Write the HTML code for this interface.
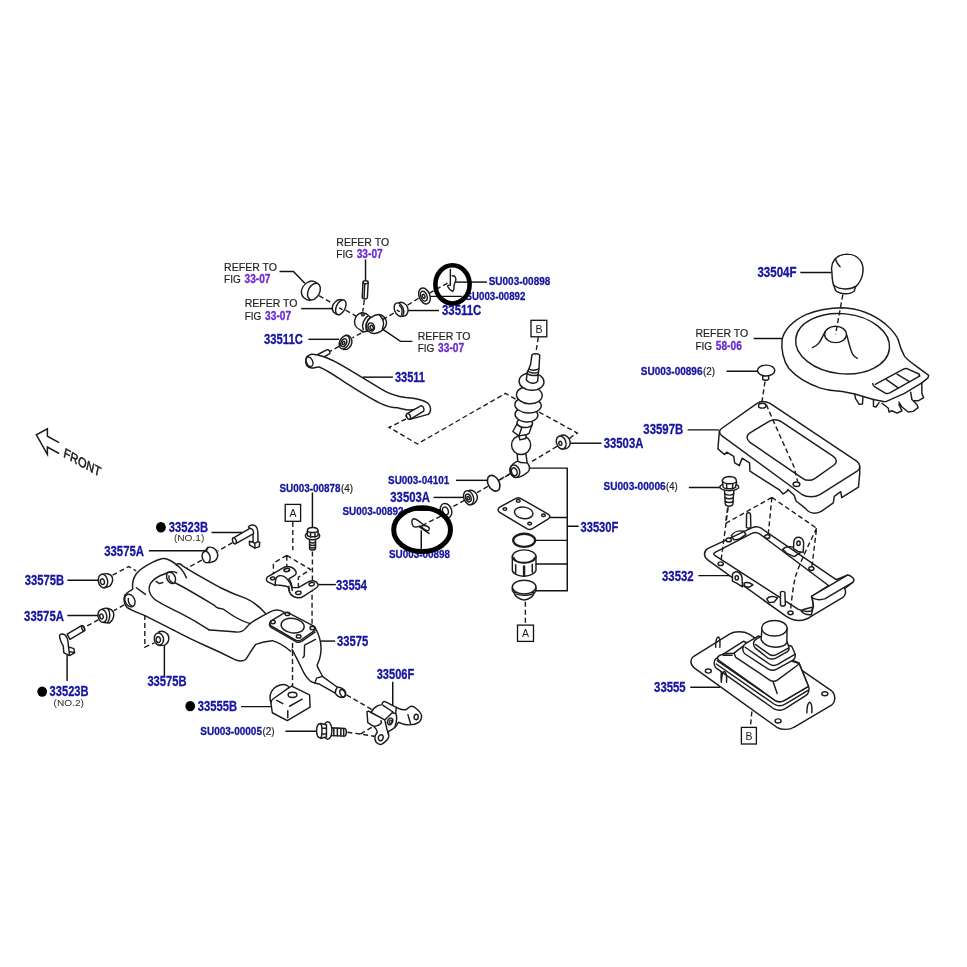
<!DOCTYPE html>
<html lang="en">
<head>
<meta charset="utf-8">
<title>Shift lever &amp; retainer parts diagram</title>
<style>
html,body{margin:0;padding:0;background:#fff;}
body{width:967px;height:967px;overflow:hidden;}
svg{display:block;will-change:transform;font-family:"Liberation Sans",Arial,sans-serif;}
.ln{fill:none;stroke:#1c1c1c;stroke-width:1.45;stroke-linecap:round;stroke-linejoin:round;}
.lf{fill:#fff;stroke:#1c1c1c;stroke-width:1.45;stroke-linecap:round;stroke-linejoin:round;}
.ds{fill:none;stroke:#1c1c1c;stroke-width:1.4;stroke-dasharray:5 3;}
.ld{fill:none;stroke:#111;stroke-width:1.45;}
.bx{fill:#fff;stroke:#111;stroke-width:1.3;}
.dot{fill:#000;}
.ring{fill:none;stroke:#000;stroke-width:4.6;}
</style>
</head>
<body>
<svg width="967" height="967" viewBox="0 0 967 967">
<rect width="967" height="967" fill="#fff"/>
<!-- 01_link_top.svg -->
<g transform="translate(295,275) scale(0.10341)" class="g9">
<!-- leader to cap -->
<path class="ld" vector-effect="non-scaling-stroke" d="M-150,-34 H-15 L95,80"/>
<!-- cap -->
<path class="lf" vector-effect="non-scaling-stroke" d="M215,80 C185,52 150,52 115,75 C80,98 60,140 62,170 C64,205 95,240 145,247 L215,80Z"/>
<ellipse class="lf" vector-effect="non-scaling-stroke" cx="183" cy="160" rx="86" ry="55" transform="rotate(-64 183 160)"/>
<!-- axis dashes -->
<path class="ds" vector-effect="non-scaling-stroke" d="M232,200 L372,280"/>
<path class="ds" vector-effect="non-scaling-stroke" d="M490,340 L590,398"/>
<!-- small bushing -->
<path class="lf" vector-effect="non-scaling-stroke" d="M462,243 C435,230 405,240 385,265 C358,297 355,335 372,358 C385,372 405,382 428,384Z"/>
<ellipse class="lf" vector-effect="non-scaling-stroke" cx="443" cy="312" rx="76" ry="43" transform="rotate(-64 443 312)"/>
<path class="ln" vector-effect="non-scaling-stroke" d="M432,320 L455,332"/>
<path class="ld" vector-effect="non-scaling-stroke" d="M60,325 H362"/>
<!-- pin -->
<path class="ld" vector-effect="non-scaling-stroke" d="M682,-150 V55"/>
<path class="lf" vector-effect="non-scaling-stroke" d="M657,70 C657,52 708,52 708,70 L700,215 C698,238 652,238 650,215Z"/>
<path class="ln" vector-effect="non-scaling-stroke" d="M660,75 C665,88 700,88 706,75 M674,90 L668,220"/>
<path class="ds" vector-effect="non-scaling-stroke" d="M670,242 L655,355"/>
<!-- centre joint -->
<path class="lf" vector-effect="non-scaling-stroke" d="M645,365 C610,372 585,400 577,440 C570,478 592,512 630,530 L655,552 L700,545 L740,420 L690,375Z"/>
<path class="lf" vector-effect="non-scaling-stroke" d="M735,410 C770,385 820,370 855,400 C885,425 895,470 875,500 C850,535 810,560 770,565 C720,570 690,530 690,490 C690,455 710,425 735,410Z"/>
<path class="ln" vector-effect="non-scaling-stroke" d="M700,400 C668,425 640,475 660,528 M735,408 C700,432 672,480 690,540 M815,385 C850,420 870,470 845,520"/>
<ellipse class="ln" vector-effect="non-scaling-stroke" cx="737" cy="502" rx="30" ry="40" transform="rotate(-20 737 502)"/>
<ellipse class="ln" vector-effect="non-scaling-stroke" cx="742" cy="508" rx="14" ry="22" transform="rotate(-20 742 508)"/>
<ellipse cx="657" cy="381" rx="17" ry="17" fill="#555" stroke="#1c1c1c" stroke-width="1" vector-effect="non-scaling-stroke"/>
<path d="M640,540 L665,535 L655,556Z" fill="#1c1c1c"/>
<!-- leader from right REFER TO -->
<path class="ld" vector-effect="non-scaling-stroke" d="M850,525 L1020,642 H1135"/>
<!-- lower-left bushing 33511C -->
<path class="ds" vector-effect="non-scaling-stroke" d="M640,562 L555,607"/>
<path class="lf" vector-effect="non-scaling-stroke" d="M490,583 C520,578 545,600 550,635 C553,665 535,700 505,718 L470,720Z"/>
<ellipse class="lf" vector-effect="non-scaling-stroke" cx="478" cy="650" rx="68" ry="45" transform="rotate(-64 478 650)"/>
<ellipse class="ln" vector-effect="non-scaling-stroke" cx="472" cy="654" rx="40" ry="26" transform="rotate(-64 472 654)"/>
<ellipse class="ln" vector-effect="non-scaling-stroke" cx="470" cy="657" rx="17" ry="11" transform="rotate(-64 470 657)"/>
<path class="ld" vector-effect="non-scaling-stroke" d="M130,622 H427"/>
<path class="ds" vector-effect="non-scaling-stroke" d="M425,690 L340,738"/>
</g>
<!-- 02_arm.svg -->
<g transform="translate(290,330) scale(0.16546)">
<!-- stub pin at top-left -->
<path class="lf" vector-effect="non-scaling-stroke" d="M168,148 L222,120 C235,116 245,130 240,143 L195,168Z"/>
<!-- arm body -->
<path class="lf" vector-effect="non-scaling-stroke" d="M118,150 C135,140 160,148 200,160 C250,175 300,205 350,235 C420,278 500,325 560,362 C610,392 650,402 700,408 C750,412 800,418 830,440 C855,460 855,495 835,510 L725,540 L700,520 L760,478 C720,492 690,478 650,470 C610,470 580,460 540,440 C480,410 400,360 330,315 C270,275 220,240 180,225 C160,220 150,232 130,230 C105,225 92,205 95,180 C97,165 105,155 118,150Z"/>
<ellipse class="ln" vector-effect="non-scaling-stroke" cx="118" cy="192" rx="19" ry="30" transform="rotate(-20 118 192)"/>
<!-- lower-right pin -->
<path class="lf" vector-effect="non-scaling-stroke" d="M708,505 L790,458 C802,455 815,475 808,490 L728,538 C715,542 700,520 708,505Z"/>
<ellipse class="lf" vector-effect="non-scaling-stroke" cx="716" cy="522" rx="11" ry="18" transform="rotate(-25 716 522)"/>
<!-- leader -->
<path class="ld" vector-effect="non-scaling-stroke" d="M440,285 H622"/>
</g>
<!-- dashed parallelogram to lever -->
<path class="ds" d="M406,419 L389,427.4 L417.5,444 L505.3,393.4 L577.3,433.1 L571,437"/>
<!-- 03_link_right.svg -->
<g transform="translate(385,255) scale(0.10341)">
<path class="ds" vector-effect="non-scaling-stroke" d="M605,272 L430,368"/>
<path class="ds" vector-effect="non-scaling-stroke" d="M325,418 L215,487"/>
<path class="ds" vector-effect="non-scaling-stroke" d="M85,562 L-20,622"/>
<!-- leaders -->
<path class="ld" vector-effect="non-scaling-stroke" d="M682,262 H985"/>
<path class="ld" vector-effect="non-scaling-stroke" d="M440,400 H745"/>
<path class="ld" vector-effect="non-scaling-stroke" d="M225,537 H522"/>
<!-- washer -->
<ellipse class="lf" vector-effect="non-scaling-stroke" cx="382" cy="396" rx="80" ry="52" transform="rotate(-112 382 396)"/>
<ellipse class="ln" vector-effect="non-scaling-stroke" cx="376" cy="398" rx="50" ry="30" transform="rotate(-112 376 398)"/>
<ellipse class="ln" vector-effect="non-scaling-stroke" cx="373" cy="400" rx="20" ry="12" transform="rotate(-112 373 400)"/>
<!-- bushing right -->
<path class="lf" vector-effect="non-scaling-stroke" d="M135,460 C165,450 205,470 218,505 C228,535 220,570 195,588 L150,595Z"/>
<ellipse class="lf" vector-effect="non-scaling-stroke" cx="135" cy="528" rx="68" ry="42" transform="rotate(-112 135 528)"/>
<path class="ln" vector-effect="non-scaling-stroke" d="M140,490 C165,505 172,545 160,572 M118,535 L138,545"/>
<!-- clip -->
<path class="ln" vector-effect="non-scaling-stroke" d="M632,140 V292 M650,200 C672,198 688,215 685,240 C682,262 668,278 667,300 C666,320 672,340 655,352 C640,345 615,325 606,305 C604,295 615,290 632,292"/>
<!-- ring -->
</g>
<!-- 04_lever.svg -->
<g transform="translate(470,340) scale(0.14478)">
<path class="ds" vector-effect="non-scaling-stroke" d="M472,-20 L455,88"/>
<!-- dashed axis -->
<path class="ds" vector-effect="non-scaling-stroke" d="M700,672 L600,735 M600,735 L410,850"/>
<path class="ds" vector-effect="non-scaling-stroke" d="M272,928 L195,972"/>
<!-- bracket leader -->
<path class="ld" vector-effect="non-scaling-stroke" d="M410,885 H672"/>
<!-- lower eye -->
<path class="lf" vector-effect="non-scaling-stroke" d="M325,782 L330,835 C310,845 290,860 280,880 C268,905 280,940 310,950 C335,955 380,930 400,912 C418,895 412,865 395,850 L385,778Z"/>
<ellipse class="ln" vector-effect="non-scaling-stroke" cx="310" cy="906" rx="44" ry="32" transform="rotate(-110 310 906)"/>
<ellipse class="ln" vector-effect="non-scaling-stroke" cx="306" cy="910" rx="28" ry="19" transform="rotate(-110 306 910)"/>
<path class="ln" vector-effect="non-scaling-stroke" d="M330,838 C345,848 365,850 392,848"/>
<!-- ball -->
<circle class="lf" vector-effect="non-scaling-stroke" cx="353" cy="725" r="66"/>
<!-- hex -->
<path class="lf" vector-effect="non-scaling-stroke" d="M330,570 L296,632 L338,662 L345,690 L385,680 L388,655 L408,645 L432,575Z"/>
<path class="ln" vector-effect="non-scaling-stroke" d="M338,662 L358,605 L328,585 M358,605 L425,590 M388,655 L338,662"/>
<!-- bellows -->
<ellipse class="lf" vector-effect="non-scaling-stroke" cx="378" cy="574" rx="54" ry="30" transform="rotate(4 378 574)"/>
<ellipse class="lf" vector-effect="non-scaling-stroke" cx="390" cy="516" rx="79" ry="50" transform="rotate(4 390 516)"/>
<ellipse class="lf" vector-effect="non-scaling-stroke" cx="401" cy="450" rx="91" ry="54" transform="rotate(4 401 450)"/>
<ellipse class="lf" vector-effect="non-scaling-stroke" cx="410" cy="381" rx="89" ry="59" transform="rotate(4 410 381)"/>
<ellipse class="lf" vector-effect="non-scaling-stroke" cx="425" cy="287" rx="86" ry="60" transform="rotate(4 425 287)"/>
<!-- shaft -->
<path class="lf" vector-effect="non-scaling-stroke" d="M427,108 C427,90 481,90 481.5,108 L476,200 L473,220 L467,286 C455,304 410,304 389,275 L396,220 L407,200 L418.6,166Z"/>
<path class="ln" vector-effect="non-scaling-stroke" d="M407,200 C420,211 455,211 476,200 M401,216 C415,230 450,232 473,222 M398,234 C415,247 450,249 472,240"/>
<circle cx="454" cy="104" r="3" fill="#444"/>
<!-- bushing 33503A right -->
<path class="lf" vector-effect="non-scaling-stroke" d="M630,658 C655,650 685,668 691,700 C695,725 680,745 660,752 L630,752Z"/>
<ellipse class="lf" vector-effect="non-scaling-stroke" cx="630" cy="708" rx="46" ry="32" transform="rotate(-110 630 708)"/>
<ellipse class="ln" vector-effect="non-scaling-stroke" cx="624" cy="714" rx="14" ry="10" transform="rotate(-110 624 714)"/>
<path class="ld" vector-effect="non-scaling-stroke" d="M692,713 H908"/>
</g>
<!-- 05_axis_lower.svg -->
<g transform="translate(380,455) scale(0.14478)">
<path class="ds" vector-effect="non-scaling-stroke" d="M905,125 L825,172"/>
<path class="ds" vector-effect="non-scaling-stroke" d="M745,217 L670,260"/>
<path class="ds" vector-effect="non-scaling-stroke" d="M585,312 L495,362"/>
<path class="ds" vector-effect="non-scaling-stroke" d="M420,422 L300,482"/>
<!-- leaders -->
<path class="ld" vector-effect="non-scaling-stroke" d="M525,175 H745"/>
<path class="ld" vector-effect="non-scaling-stroke" d="M370,293 H582"/>
<path class="ld" vector-effect="non-scaling-stroke" d="M170,382 H418"/>
<path class="ld" vector-effect="non-scaling-stroke" d="M285,520 V650"/>
<!-- o-ring -->
<ellipse class="ln" vector-effect="non-scaling-stroke" cx="785" cy="195" rx="58" ry="38" transform="rotate(-118 785 195)" style="stroke-width:1.6"/>
<!-- bushing -->
<path class="lf" vector-effect="non-scaling-stroke" d="M615,245 C640,240 668,258 672,285 C675,310 660,335 635,342 L610,342Z"/>
<ellipse class="lf" vector-effect="non-scaling-stroke" cx="612" cy="295" rx="50" ry="33" transform="rotate(-110 612 295)"/>
<ellipse class="ln" vector-effect="non-scaling-stroke" cx="610" cy="297" rx="28" ry="18" transform="rotate(-110 610 297)"/>
<ellipse class="ln" vector-effect="non-scaling-stroke" cx="609" cy="298" rx="12" ry="8" transform="rotate(-110 609 298)"/>
<!-- washer -->
<ellipse class="lf" vector-effect="non-scaling-stroke" cx="456" cy="385" rx="52" ry="38" transform="rotate(-110 456 385)"/>
<ellipse class="ln" vector-effect="non-scaling-stroke" cx="452" cy="386" rx="28" ry="19" transform="rotate(-110 452 386)"/>
<!-- clip -->
<path class="ln" vector-effect="non-scaling-stroke" d="M300,482 C280,465 255,440 232,440 C215,445 218,475 228,490 C240,502 260,498 282,490 C300,485 325,488 338,500 C345,512 338,525 322,522 C305,518 292,505 282,490 M270,495 L338,542"/>
</g>
<!-- 06_stack.svg -->
<g transform="translate(490,470) scale(0.18614)">
<path class="ld" vector-effect="non-scaling-stroke" d="M415,-12 V649 H247 M322,255 H415 M415,302 H476 M245,378 H415 M247,505.5 H415"/>
<!-- gasket -->
<path class="lf" vector-effect="non-scaling-stroke" d="M52,200 L140,152 C148,148 156,148 164,152 L314,238 C324,245 324,255 314,262 L228,315 C218,321 210,321 200,316 L52,228 C40,220 40,208 52,200Z"/>
<ellipse class="ln" vector-effect="non-scaling-stroke" cx="181" cy="230" rx="50" ry="31" transform="rotate(8 181 230)"/>
<ellipse class="ln" vector-effect="non-scaling-stroke" cx="80" cy="210" rx="10" ry="7"/>
<ellipse class="ln" vector-effect="non-scaling-stroke" cx="152" cy="166" rx="10" ry="7"/>
<ellipse class="ln" vector-effect="non-scaling-stroke" cx="287" cy="243" rx="10" ry="7"/>
<ellipse class="ln" vector-effect="non-scaling-stroke" cx="213" cy="288" rx="10" ry="7"/>
<!-- o-ring -->
<ellipse class="ln" vector-effect="non-scaling-stroke" cx="183.5" cy="378" rx="59" ry="35.5" style="stroke-width:2.3"/>
<!-- cap -->
<path class="lf" vector-effect="non-scaling-stroke" d="M120,465 V540 C125,560 160,572 185,571 C215,570 242,556 247,540 V465Z"/>
<ellipse class="lf" vector-effect="non-scaling-stroke" cx="183.5" cy="464.5" rx="63.5" ry="35.5"/>
<path class="ln" vector-effect="non-scaling-stroke" d="M128,470 C135,492 160,498 185,497 C212,496 232,488 240,470"/>
<path class="ln" vector-effect="non-scaling-stroke" d="M138,509 V553 M227,507 V549" style="stroke-width:1.5"/>
<path class="ln" vector-effect="non-scaling-stroke" d="M183,518 V567" style="stroke-width:2.4"/>
<!-- plug -->
<path class="lf" vector-effect="non-scaling-stroke" d="M127,655 C135,680 160,698 183.5,698 C208,698 232,680 240,655Z"/>
<path class="lf" vector-effect="non-scaling-stroke" d="M120,630 V648 C125,656 128,658 132,660 C150,645 215,645 236,660 C240,658 244,654 247,648 V630Z"/>
<ellipse class="lf" vector-effect="non-scaling-stroke" cx="183.5" cy="629" rx="63.5" ry="37"/>
<path class="ln" vector-effect="non-scaling-stroke" d="M140,666 C160,676 210,676 228,666"/>
<path class="ds" vector-effect="non-scaling-stroke" d="M190,708 V830"/>
</g>
<rect class="bx" x="517.5" y="625.1" width="16" height="16.3"/>
<text x="525.5" y="637.2" font-size="10.5" text-anchor="middle" fill="#222">A</text>
<!-- 10_crossmember.svg -->
<g transform="translate(90,510) scale(0.16546)">
<!-- tile A: left end -->
<path class="ln" vector-effect="non-scaling-stroke" d="M212,515 C225,495 245,485 258,478 C255,450 262,410 280,385 C300,360 340,335 380,315 C410,300 430,290 450,293 C475,297 500,312 522,330"/>
<path class="ln" vector-effect="non-scaling-stroke" d="M522,330 C545,345 570,380 583,410"/>
<path class="ln" vector-effect="non-scaling-stroke" d="M212,515 C200,535 205,570 225,590 C260,610 300,625 335,640 L502,725"/>
<ellipse class="ln" vector-effect="non-scaling-stroke" cx="241" cy="547" rx="40" ry="29" transform="rotate(-115 241 547)"/>
<path class="ln" vector-effect="non-scaling-stroke" d="M232,535 C228,550 235,570 250,578"/>
<path class="ln" vector-effect="non-scaling-stroke" d="M280,470 L335,510"/>
<path class="ln" vector-effect="non-scaling-stroke" d="M455,385 C420,395 385,415 365,445 C350,475 355,505 385,535 C420,565 480,590 540,620 C600,650 660,685 720,725"/>
<path class="ln" vector-effect="non-scaling-stroke" d="M455,385 C475,370 505,370 525,380"/>
<ellipse class="ln" vector-effect="non-scaling-stroke" cx="490" cy="410" rx="36" ry="25" transform="rotate(-115 490 410)"/>
<path class="ln" vector-effect="non-scaling-stroke" d="M478,398 C474,412 482,430 497,438"/>
<path class="ln" vector-effect="non-scaling-stroke" d="M400,432 L420,445 L440,438"/>
</g>
<g transform="translate(140,550) scale(0.16546)">
<!-- tile B: middle -->
<path class="ln" vector-effect="non-scaling-stroke" d="M219,90 C228,78 245,82 260,98 C300,125 380,170 480,225 C530,250 590,275 640,292 C680,310 720,340 760,385"/>
<path class="ln" vector-effect="non-scaling-stroke" d="M210,198 C260,220 350,275 450,335 C460,348 470,354 485,354 C500,354 510,360 522,370 C560,398 610,428 665,445"/>
<path class="ln" vector-effect="non-scaling-stroke" d="M418,483 C470,485 540,492 580,496 C605,498 625,490 640,472 L665,445 C700,420 750,392 790,372 C815,360 850,362 875,378"/>
<path class="ln" vector-effect="non-scaling-stroke" d="M200,483 C260,515 330,550 400,580 C450,602 520,635 580,665 C600,672 625,672 640,660 C660,630 680,595 700,570 C730,558 770,550 800,548 C840,560 880,585 910,612"/>
</g>
<g transform="translate(200,560) scale(0.16546)">
<!-- tile C: plate end -->
<path class="lf" vector-effect="non-scaling-stroke" d="M430,368 L505,322 C515,316 528,316 540,322 L688,400 C700,408 702,420 690,428 L612,482 C602,490 590,490 578,484 L430,398 C418,390 418,376 430,368Z"/>
<path class="ln" vector-effect="non-scaling-stroke" d="M420,385 C418,395 422,402 432,408 L580,494 C592,500 604,498 614,492 L695,436"/>
<ellipse class="ln" vector-effect="non-scaling-stroke" cx="560" cy="397" rx="70" ry="44" transform="rotate(8 560 397)"/>
<ellipse class="ln" vector-effect="non-scaling-stroke" cx="441" cy="375" rx="14" ry="10"/>
<ellipse class="ln" vector-effect="non-scaling-stroke" cx="528" cy="326" rx="14" ry="10"/>
<ellipse class="ln" vector-effect="non-scaling-stroke" cx="679" cy="411" rx="14" ry="10"/>
<ellipse class="ln" vector-effect="non-scaling-stroke" cx="596" cy="462" rx="14" ry="10"/>
<path class="ln" vector-effect="non-scaling-stroke" d="M695,410 C712,435 722,465 728,495 C735,540 730,575 722,600 C715,620 708,630 708,636 C712,655 730,680 740,703"/>
<path class="ln" vector-effect="non-scaling-stroke" d="M698,480 L632,515 L630,580 L622,590"/>
<path class="ln" vector-effect="non-scaling-stroke" d="M556,540 C570,565 590,605 602,629 C612,650 620,668 628,682 C640,705 655,722 665,730 C675,737 685,741 694,744"/>
<path class="ld" vector-effect="non-scaling-stroke" d="M730,490 H817"/>
</g>
<!-- 11_bracket.svg -->
<g transform="translate(250,495) scale(0.12410)">
<!-- dashed guides -->
<path class="ds" vector-effect="non-scaling-stroke" d="M345,218 V445"/>
<path class="ds" vector-effect="non-scaling-stroke" d="M503,455 V705"/>
<path class="ds" vector-effect="non-scaling-stroke" d="M500,740 V1065"/>
<!-- bolt leader -->
<path class="ld" vector-effect="non-scaling-stroke" d="M503,-20 V262"/>
<!-- bolt -->
<path class="lf" vector-effect="non-scaling-stroke" d="M480,355 V430 C482,448 526,448 528,430 V355Z"/>
<path class="ln" vector-effect="non-scaling-stroke" d="M480,380 C495,388 515,388 528,380 M480,400 C495,408 515,408 528,400 M480,420 C495,428 515,428 528,420"/>
<ellipse class="lf" vector-effect="non-scaling-stroke" cx="504" cy="328" rx="58" ry="32"/>
<path class="lf" vector-effect="non-scaling-stroke" d="M462,290 C462,270 480,262 505,262 C530,262 548,270 548,290 V325 C540,340 470,340 462,325Z"/>
<path class="ln" vector-effect="non-scaling-stroke" d="M462,292 C475,305 535,305 548,292 M488,302 V338 M524,302 V338"/>
<path class="ld" vector-effect="non-scaling-stroke" d="M552,722 H692"/>
</g>
<g transform="translate(260,550) scale(0.07239)">
<!-- bracket 33554 -->
<path class="lf" vector-effect="non-scaling-stroke" d="M100,375 L330,240 C350,228 400,225 440,242 C475,260 498,290 500,318 C498,335 490,345 478,352 L400,400 C420,430 438,470 445,520 L530,520 L680,435 C700,425 740,422 770,438 C795,455 808,475 802,495 C798,505 792,512 785,518 L600,640 C580,655 550,662 520,660 C480,655 440,630 420,605 C405,585 400,560 400,530 C390,515 370,500 350,498 C320,490 270,488 225,482 L210,490 L110,440 C88,425 82,400 100,375Z"/>
<path class="ln" vector-effect="non-scaling-stroke" d="M210,490 C208,450 212,410 225,385 C245,355 290,345 330,365 C370,388 410,440 430,490 C440,515 445,540 445,560 M400,500 V560"/>
<ellipse class="ln" vector-effect="non-scaling-stroke" cx="175" cy="392" rx="30" ry="19" transform="rotate(-12 175 392)"/>
<ellipse class="ln" vector-effect="non-scaling-stroke" cx="370" cy="276" rx="38" ry="22" transform="rotate(-12 370 276)" style="stroke-width:1.7"/>
<ellipse class="ln" vector-effect="non-scaling-stroke" cx="530" cy="592" rx="38" ry="23" transform="rotate(-12 530 592)"/>
<ellipse class="ln" vector-effect="non-scaling-stroke" cx="715" cy="472" rx="38" ry="23" transform="rotate(-12 715 472)"/>
<!-- guides -->
<path class="ds" vector-effect="non-scaling-stroke" d="M370,75 L185,182 V335 M370,80 V240 M370,75 L700,270 L530,375 V565"/>
</g>
<rect class="bx" x="285.2" y="504.4" width="15.4" height="16.9"/>
<text x="292.9" y="516.9" font-size="10.5" text-anchor="middle" fill="#222">A</text>
<!-- 12_left_bush.svg -->
<g transform="translate(50,560) scale(0.14478)">
<path class="ds" vector-effect="non-scaling-stroke" d="M432,105 L545,45 L596,76"/>
<path class="ds" vector-effect="non-scaling-stroke" d="M512,310 L440,350"/>
<path class="ds" vector-effect="non-scaling-stroke" d="M335,412 L238,466"/>
<path class="ds" vector-effect="non-scaling-stroke" d="M655,380 V602 L722,572"/>
<path class="ld" vector-effect="non-scaling-stroke" d="M120,140 H335 M120,383 H335 M118,655 V835 M790,585 V805"/>
<!-- 33575B upper -->
<path class="lf" vector-effect="non-scaling-stroke" d="M365,98 C390,88 420,98 430,118 C436,140 428,165 410,182 L375,192Z"/>
<ellipse class="lf" vector-effect="non-scaling-stroke" cx="366" cy="145" rx="47" ry="32" transform="rotate(-100 366 145)"/>
<ellipse class="ln" vector-effect="non-scaling-stroke" cx="362" cy="150" rx="20" ry="14" transform="rotate(-100 362 150)"/>
<!-- 33575A lower -->
<path class="lf" vector-effect="non-scaling-stroke" d="M362,340 C385,325 425,335 438,360 C445,385 435,415 410,436 L370,432Z"/>
<path class="ln" vector-effect="non-scaling-stroke" d="M400,338 C418,360 418,400 398,432"/>
<ellipse class="lf" vector-effect="non-scaling-stroke" cx="362" cy="386" rx="45" ry="30" transform="rotate(-100 362 386)"/>
<ellipse class="ln" vector-effect="non-scaling-stroke" cx="356" cy="390" rx="18" ry="12" transform="rotate(-100 356 390)"/>
<!-- clip NO.2 -->
<path class="lf" vector-effect="non-scaling-stroke" d="M118,512 L215,455 C228,450 242,468 240,488 L138,548Z"/>
<ellipse class="ln" vector-effect="non-scaling-stroke" cx="229" cy="472" rx="9" ry="17" transform="rotate(-20 229 472)"/>
<path class="lf" vector-effect="non-scaling-stroke" d="M66,520 C72,510 90,508 100,515 C115,528 125,550 126,580 L128,600 L165,612 L170,642 L135,660 L95,640 L92,595 C80,575 65,545 66,520Z"/>
<path class="ln" vector-effect="non-scaling-stroke" d="M128,600 L132,632 L168,640 M132,632 L134,658"/>
<!-- 33575B bottom bushing -->
<path class="lf" vector-effect="non-scaling-stroke" d="M752,495 C780,485 812,500 820,530 C824,555 812,578 792,588 L755,590Z"/>
<ellipse class="lf" vector-effect="non-scaling-stroke" cx="752" cy="546" rx="42" ry="32" transform="rotate(-100 752 546)"/>
<ellipse class="ln" vector-effect="non-scaling-stroke" cx="748" cy="550" rx="20" ry="15" transform="rotate(-100 748 550)"/>
</g>
<!-- 13_clip1.svg -->
<g transform="translate(150,500) scale(0.14478)">
<path class="ds" vector-effect="non-scaling-stroke" d="M570,295 L470,352"/>
<path class="ds" vector-effect="non-scaling-stroke" d="M357,415 L255,472"/>
<path class="ld" vector-effect="non-scaling-stroke" d="M425,225 H640 M-8,350 H385"/>
<!-- clip head -->
<path class="lf" vector-effect="non-scaling-stroke" d="M680,185 C690,170 715,168 730,180 C740,190 745,205 745,225 L746,285 L758,292 L755,322 L725,332 L688,312 L686,285 L712,292 L712,240Z"/>
<path class="ln" vector-effect="non-scaling-stroke" d="M712,292 L724,300 L725,332 M724,300 L746,288"/>
<!-- pin -->
<path class="lf" vector-effect="non-scaling-stroke" d="M574,263 L690,196 C702,194 718,212 716,232 L592,302 C580,305 566,280 574,263Z"/>
<ellipse class="lf" vector-effect="non-scaling-stroke" cx="583" cy="282" rx="12" ry="21" transform="rotate(-20 583 282)"/>
<!-- bushing 33575A upper -->
<path class="lf" vector-effect="non-scaling-stroke" d="M372,362 L400,328 C420,322 442,330 455,345 C466,360 470,378 466,395 C462,408 455,416 445,423 L408,434Z"/>
<ellipse class="lf" vector-effect="non-scaling-stroke" cx="388" cy="394" rx="40" ry="27" transform="rotate(-105 388 394)"/>
<path class="ln" vector-effect="non-scaling-stroke" d="M400,328 C394,336 390,345 390,355"/>
</g>
<ellipse class="dot" cx="160.9" cy="527.3" rx="4.9" ry="5.2"/>
<ellipse class="dot" cx="42.2" cy="691.6" rx="4.9" ry="5.2"/>
<ellipse class="dot" cx="190.2" cy="706.1" rx="4.9" ry="5.2"/>
<!-- 14_bottom.svg -->
<g transform="translate(260,650) scale(0.17580)">
<!-- dashed guides -->
<path class="ds" vector-effect="non-scaling-stroke" d="M185,-40 V240"/>
<path class="ds" vector-effect="non-scaling-stroke" d="M492,255 L640,340"/>
<path class="ds" vector-effect="non-scaling-stroke" d="M497,468 L572,478 L655,492 M572,478 L648,432"/>
<path class="ld" vector-effect="non-scaling-stroke" d="M-108,322 H62 M145,462 H320 M755,180 V352"/>
<!-- crossmember lower end + pin -->
<path class="lf" vector-effect="non-scaling-stroke" d="M322,160 L355,150 L440,212 C455,210 480,222 487,240 C492,255 480,270 465,270 C450,268 435,258 428,245 L340,195 L312,188Z"/>
<path class="ln" vector-effect="non-scaling-stroke" d="M440,212 C432,222 428,235 428,245"/>
<ellipse class="ln" vector-effect="non-scaling-stroke" cx="470" cy="246" rx="14" ry="22" transform="rotate(-25 470 246)"/>
<!-- 33555B block -->
<path class="lf" vector-effect="non-scaling-stroke" d="M62,300 C52,270 58,240 80,218 C100,200 130,192 150,200 C158,203 162,208 165,214 L180,205 L282,255 L285,325 L155,402 L70,357Z"/>
<path class="ln" vector-effect="non-scaling-stroke" d="M165,214 L72,280 C66,285 63,292 62,300 M95,287 L130,305 M168,320 L240,280 M158,345 V385"/>
<ellipse class="ln" vector-effect="non-scaling-stroke" cx="185" cy="255" rx="25" ry="15"/>
<!-- bolt -->
<path class="lf" vector-effect="non-scaling-stroke" d="M400,442 L482,446 C494,450 494,486 482,490 L400,486Z"/>
<path class="ln" vector-effect="non-scaling-stroke" d="M420,443 V487 M440,444 V488 M460,445 V489 M476,446 V490" style="stroke-width:1.5"/>
<ellipse class="lf" vector-effect="non-scaling-stroke" cx="385" cy="458" rx="24" ry="50"/>
<path class="lf" vector-effect="non-scaling-stroke" d="M345,418 C330,418 322,435 322,460 C322,485 330,500 345,502 L378,495 V425Z"/>
<path class="ln" vector-effect="non-scaling-stroke" d="M345,418 C355,430 355,490 345,502 M352,445 H378 M352,478 H378"/>
</g>
<g transform="translate(350,690) scale(0.08273)">
<!-- 33506F bracket -->
<path class="lf" vector-effect="non-scaling-stroke" d="M205,262 L225,255 L255,272 C265,245 290,215 330,192 C350,184 370,181 385,180 L392,155 C398,142 410,136 425,140 L560,210 C600,232 650,245 680,235 L720,205 C740,193 770,198 795,220 C830,248 862,285 865,310 C866,345 850,378 825,395 C790,420 730,428 650,415 L585,390 L565,425 C545,455 515,482 465,500 C460,520 472,545 468,568 C460,595 425,630 385,655 C365,662 340,655 318,635 C302,610 298,580 302,558 L330,510 C328,490 315,465 290,440 L270,430 L215,395Z"/>
<path class="ln" vector-effect="non-scaling-stroke" d="M255,272 L420,362 L510,275 M420,362 C428,400 438,440 446,472 C455,500 460,515 462,530 M510,275 L555,285 C568,320 566,380 545,440 M290,440 C325,436 365,420 380,395 L375,372 M560,210 L552,282 M700,298 L732,408 M400,186 L520,266"/>
<ellipse class="ln" vector-effect="non-scaling-stroke" cx="485" cy="380" rx="29" ry="42" transform="rotate(25 485 380)"/>
<ellipse class="ln" vector-effect="non-scaling-stroke" cx="488" cy="384" rx="12" ry="21" transform="rotate(25 488 384)" style="stroke-width:1.1"/>
<ellipse class="ln" vector-effect="non-scaling-stroke" cx="800" cy="326" rx="25" ry="33" transform="rotate(10 800 326)"/>
<ellipse class="ln" vector-effect="non-scaling-stroke" cx="372" cy="576" rx="29" ry="37" transform="rotate(20 372 576)"/>
</g>
<!-- 20_console.svg -->
<g transform="translate(740,240) scale(0.22751)">
<path class="ds" vector-effect="non-scaling-stroke" d="M452,240 L420,415"/>
<path class="ld" vector-effect="non-scaling-stroke" d="M265,143 H402 M60,433 H188 M-59,577 H78"/>
<!-- knob -->
<path class="lf" vector-effect="non-scaling-stroke" d="M404,140 C396,100 420,64 470,62 C520,62 546,100 540,142 C538,170 522,192 508,206 L502,224 C482,242 440,240 420,222 L414,204 C404,185 405,160 404,140Z"/>
<path class="ln" vector-effect="non-scaling-stroke" d="M414,200 C440,220 485,220 508,204 M420,86 C425,100 432,110 440,118"/>
<!-- console outline -->
<path class="ln" vector-effect="non-scaling-stroke" d="M396,660 C380,658 365,655 350,650 C300,632 250,605 215,565 C190,530 180,480 185,440 C190,400 230,355 290,328 C340,308 400,298 450,298 C520,300 590,330 640,370 C675,400 690,425 696,440"/>
<ellipse class="ln" vector-effect="non-scaling-stroke" cx="451" cy="456" rx="207" ry="132" transform="rotate(6 451 456)"/>
<ellipse class="ln" vector-effect="non-scaling-stroke" cx="420" cy="415" rx="48" ry="36"/>
<path class="ln" vector-effect="non-scaling-stroke" d="M375,402 C358,430 352,462 318,473 M470,420 C478,450 484,478 494,500 C500,510 508,517 516,520"/>
<!-- plug SU003-00896 -->
<path class="lf" vector-effect="non-scaling-stroke" d="M100,590 V612 C105,618 120,618 126,612 V590Z"/>
<ellipse class="lf" vector-effect="non-scaling-stroke" cx="115" cy="574" rx="38" ry="24"/>
<path class="ds" vector-effect="non-scaling-stroke" d="M110,622 L95,720"/>
</g>
<g transform="translate(830,340) scale(0.12410)">
<path class="ln" vector-effect="non-scaling-stroke" d="M550,0 C560,40 580,95 600,130 C615,150 640,172 700,215 L795,285 L790,305 L740,345 L600,430 L455,495 C445,498 438,497 430,495 L350,480 L200,435 L100,415 L0,405"/>
<path class="ln" vector-effect="non-scaling-stroke" d="M345,350 C342,362 348,370 358,376 L445,428 C458,434 470,432 482,426 L725,290 M715,290 C725,282 722,276 712,272 L625,232 C612,228 600,230 588,236 L365,358"/>
<path class="ln" vector-effect="non-scaling-stroke" d="M455,320 L550,385 M540,275 L640,335"/>
<path class="ln" vector-effect="non-scaling-stroke" d="M200,435 L205,470 L235,518 L262,515 L265,455 M350,480 L350,535 L370,540 L395,505 M420,510 L470,550 L475,580 L500,570 L540,590 L580,570 L555,520 M555,500 L580,540 L630,580 L670,575 L710,545 L700,520 L660,480 L650,420 M680,490 L710,490 L755,465 L740,430 L740,345"/>
</g>
<!-- 21_cover.svg -->
<g transform="translate(690,380) scale(0.18614)">
<path class="ld" vector-effect="non-scaling-stroke" d="M-13,268 H155 M-6,577 H165"/>
<!-- cover side -->
<path class="lf" vector-effect="non-scaling-stroke" d="M158,272 L150,370 L185,400 L197,388 L235,410 L240,445 L265,460 L280,420 L320,445 L322,490 L370,520 L480,590 L500,612 L520,600 L526,588 L560,620 L570,650 L620,690 C635,710 650,716 670,716 C685,715 695,712 705,706 L770,660 L775,625 L810,600 L815,632 L905,575 L912,500 L912,465 L640,320Z"/>
<!-- cover top -->
<path class="lf" vector-effect="non-scaling-stroke" d="M168,262 L360,126 C375,114 400,112 428,124 L895,436 C915,450 918,475 900,488 L700,614 C670,632 630,632 600,614 L172,300 C155,288 155,272 168,262Z"/>
<path class="ln" vector-effect="non-scaling-stroke" d="M320,285 L425,222 C445,212 470,212 490,224 L770,410 C790,425 792,445 772,458 L672,528 C650,542 625,542 605,528 L322,335 C302,320 302,298 320,285Z"/>
<ellipse class="lf" vector-effect="non-scaling-stroke" cx="388" cy="138" rx="20" ry="13"/>
<ellipse class="lf" vector-effect="non-scaling-stroke" cx="572" cy="560" rx="18" ry="12"/>
<path class="ds" vector-effect="non-scaling-stroke" d="M410,132 C460,250 520,380 560,470 L578,545"/>
<!-- bolt -->
<path class="lf" vector-effect="non-scaling-stroke" d="M185,588 L190,668 C195,682 225,682 230,668 L236,588Z"/>
<path class="ln" vector-effect="non-scaling-stroke" d="M187,612 C200,620 222,620 235,612 M188,632 C200,640 222,640 233,632 M189,652 C200,660 222,660 232,652"/>
<ellipse class="lf" vector-effect="non-scaling-stroke" cx="211" cy="575" rx="51" ry="20"/>
<path class="lf" vector-effect="non-scaling-stroke" d="M175,548 C170,530 185,520 212,518 C238,518 252,528 250,548 L245,575 C235,588 185,588 178,575Z"/>
<path class="ln" vector-effect="non-scaling-stroke" d="M175,548 C190,560 235,560 250,548 M196,558 L198,585 M230,558 L228,585"/>
<path class="ds" vector-effect="non-scaling-stroke" d="M202,688 L192,760"/>
</g>
<!-- 22_retainer.svg -->
<g transform="translate(690,490) scale(0.18614)">
<path class="ld" vector-effect="non-scaling-stroke" d="M45,460 H225"/>
<!-- frame outer -->
<path class="lf" vector-effect="non-scaling-stroke" d="M95,315 L335,202 C350,195 368,196 382,205 L785,482 L846,457 L880,482 L874,496 L830,530 C838,541 836,558 828,570 C822,578 816,581 810,584 L655,676 C630,695 595,705 560,698 C545,695 530,688 515,678 L95,375 C72,358 72,330 95,315Z"/>
<!-- frame inner -->
<path class="lf" vector-effect="non-scaling-stroke" d="M135,335 L335,232 C348,226 362,228 374,236 L744,513 L655,572 L663,624 L652,650 C630,655 600,650 580,640 L135,352 C125,346 125,340 135,335Z"/>
<!-- handle -->
<path class="lf" vector-effect="non-scaling-stroke" d="M652,571 L846,457 C860,458 878,470 880,482 C880,490 878,494 874,496 L724,585 C700,592 680,590 663,582 C656,580 652,575 652,571Z"/>
<path class="ln" vector-effect="non-scaling-stroke" d="M655,574 L663,624 L652,670 M596,648 C610,640 632,636 652,630 M596,648 C605,662 625,672 652,670"/>
<!-- pads -->
<path class="ln" vector-effect="non-scaling-stroke" d="M222,245 C235,225 262,215 290,222 L300,240 L262,265 L235,268Z M498,318 C510,305 535,300 558,308 L595,335 L560,358 L520,340Z M290,500 C305,495 325,500 338,510 L318,522 L295,518Z M412,585 C425,570 450,568 470,580 L452,602 L425,605Z"/>
<!-- tabs -->
<path class="lf" vector-effect="non-scaling-stroke" d="M228,455 C230,440 250,435 265,445 C275,452 280,465 280,480 L282,520 L250,500 L228,490Z"/>
<ellipse class="ln" vector-effect="non-scaling-stroke" cx="251" cy="472" rx="9" ry="12"/>
<path class="lf" vector-effect="non-scaling-stroke" d="M558,275 C560,255 582,248 598,258 C610,268 612,285 610,300 L608,335 L580,330 L556,315Z"/>
<ellipse class="ln" vector-effect="non-scaling-stroke" cx="583" cy="286" rx="9" ry="12"/>
<!-- studs -->
<path class="lf" vector-effect="non-scaling-stroke" d="M304,130 C304,120 324,120 325,130 L327,200 C322,208 308,208 303,200Z"/>
<path class="lf" vector-effect="non-scaling-stroke" d="M486,552 C486,542 508,542 510,552 L512,618 C506,626 492,626 486,618Z"/>
<!-- holes -->
<ellipse class="lf" vector-effect="non-scaling-stroke" cx="208" cy="268" rx="14" ry="10"/>
<ellipse class="lf" vector-effect="non-scaling-stroke" cx="165" cy="396" rx="14" ry="10"/>
<ellipse class="lf" vector-effect="non-scaling-stroke" cx="415" cy="250" rx="14" ry="10"/>
<ellipse class="lf" vector-effect="non-scaling-stroke" cx="652" cy="422" rx="14" ry="10"/>
<ellipse class="lf" vector-effect="non-scaling-stroke" cx="540" cy="660" rx="14" ry="10"/>
<!-- dashed guides -->
<path class="ds" vector-effect="non-scaling-stroke" d="M205,92 L166,385"/>
<path class="ds" vector-effect="non-scaling-stroke" d="M440,40 L190,180 M440,40 L420,240 M440,40 L680,205 L655,412 M680,205 C640,290 590,390 565,470 C552,530 545,600 540,650"/>
</g>
<!-- 23_boot.svg -->
<g transform="translate(680,610) scale(0.18614)">
<path class="ld" vector-effect="non-scaling-stroke" d="M55,415 H215"/>
<path class="ds" vector-effect="non-scaling-stroke" d="M386,545 L378,630"/>
<!-- base plate -->
<path class="lf" vector-effect="non-scaling-stroke" d="M72,250 L268,128 C290,115 340,112 372,130 L815,435 C835,450 838,490 818,508 L612,630 C590,645 545,645 520,630 L78,312 C55,295 52,265 72,250Z"/>
<ellipse class="ln" vector-effect="non-scaling-stroke" cx="152" cy="328" rx="16" ry="11"/>
<ellipse class="ln" vector-effect="non-scaling-stroke" cx="778" cy="450" rx="16" ry="11"/>
<ellipse class="ln" vector-effect="non-scaling-stroke" cx="527" cy="596" rx="16" ry="11"/>
<path class="ln" vector-effect="non-scaling-stroke" d="M192,200 C190,165 198,145 206,145 C214,148 216,170 214,200 M682,552 C682,520 688,498 698,496 C706,500 710,525 708,552"/>
<!-- boot outer rings -->
<path class="lf" vector-effect="non-scaling-stroke" d="M192,262 L340,168 L640,285 L692,415 C695,435 690,450 675,460 L565,530 C545,542 520,540 500,528 L195,312 C180,300 180,275 192,262Z"/>
<path class="ln" vector-effect="non-scaling-stroke" d="M195,290 L505,505 C525,518 545,518 565,506 L688,432 M200,272 L510,485 C528,496 545,496 562,486 L690,410"/>
<path class="lf" vector-effect="non-scaling-stroke" d="M205,250 C215,238 240,232 290,232 L345,190 L640,288 L690,410 L562,486 C545,496 528,496 510,485 L208,270 C200,262 200,256 205,250Z"/>
<path class="ln" vector-effect="non-scaling-stroke" d="M290,232 L300,255 L480,375 C495,385 510,385 525,375 L640,290 M232,243 H280 M500,385 L522,448"/>
<path class="ln" vector-effect="non-scaling-stroke" d="M222,332 C220,350 220,370 222,388 M250,388 C252,360 248,335 238,330 C228,332 224,350 222,388"/>
<!-- bellows -->
<path class="lf" vector-effect="non-scaling-stroke" d="M338,215 C335,200 340,190 352,180 L420,140 L600,195 L618,235 C622,250 618,262 605,270 L520,318 C505,326 490,326 475,318 L348,235 C342,230 339,222 338,215Z"/>
<path class="ln" vector-effect="non-scaling-stroke" d="M350,200 L480,290 C495,300 510,300 525,292 L615,240"/>
<path class="lf" vector-effect="non-scaling-stroke" d="M395,180 C395,168 402,160 412,155 L445,138 L575,170 L585,200 C588,212 582,222 570,228 L515,258 C500,266 485,265 472,258 L405,205 C398,198 395,190 395,180Z"/>
<path class="ln" vector-effect="non-scaling-stroke" d="M405,185 L480,238 C492,246 505,246 518,240 L582,205"/>
<!-- top cylinder -->
<path class="lf" vector-effect="non-scaling-stroke" d="M440,98 L436,160 C450,185 480,200 515,200 C545,198 568,188 574,175 L575,98Z"/>
<ellipse class="lf" vector-effect="non-scaling-stroke" cx="507" cy="98" rx="68" ry="42"/>
</g>
<rect class="bx" x="741.4" y="727.4" width="15" height="16.6"/>
<text x="748.9" y="739.8" font-size="10.5" text-anchor="middle" fill="#222">B</text>
<rect class="bx" x="531" y="320.3" width="15.8" height="16.5"/>
<text x="538.9" y="332.7" font-size="10.5" text-anchor="middle" fill="#222">B</text>
<!-- 30_front.svg -->
<g transform="translate(20,415) scale(0.10341)">
<path class="ln" vector-effect="non-scaling-stroke" d="M378,268 L265,205 L265,133 L158,192 L265,380 L265,310 L378,372" style="stroke-width:1.5;stroke-linejoin:miter;stroke-linecap:butt"/>
</g>
<text x="0" y="0" font-size="13" fill="#1a1a1a" stroke="#1a1a1a" stroke-width="0.5" textLength="42" lengthAdjust="spacingAndGlyphs" transform="matrix(0.875,0.485,-0.209,0.978,63.0,456.6)">FRONT</text>
<g id="labels" stroke-linejoin="round">
<text x="264.0" y="344.2" font-size="14.8" font-weight="bold" fill="#14149e" stroke="#14149e" stroke-width="0.3" textLength="39.0" lengthAdjust="spacingAndGlyphs">33511C</text>
<text x="442.0" y="315.1" font-size="14.8" font-weight="bold" fill="#14149e" stroke="#14149e" stroke-width="0.3" textLength="39.3" lengthAdjust="spacingAndGlyphs">33511C</text>
<text x="394.9" y="381.8" font-size="14.8" font-weight="bold" fill="#14149e" stroke="#14149e" stroke-width="0.3" textLength="30.1" lengthAdjust="spacingAndGlyphs">33511</text>
<text x="603.8" y="448.4" font-size="14.8" font-weight="bold" fill="#14149e" stroke="#14149e" stroke-width="0.3" textLength="39.5" lengthAdjust="spacingAndGlyphs">33503A</text>
<text x="390.3" y="502.0" font-size="14.8" font-weight="bold" fill="#14149e" stroke="#14149e" stroke-width="0.3" textLength="39.7" lengthAdjust="spacingAndGlyphs">33503A</text>
<text x="580.5" y="532.4" font-size="14.8" font-weight="bold" fill="#14149e" stroke="#14149e" stroke-width="0.3" textLength="37.8" lengthAdjust="spacingAndGlyphs">33530F</text>
<text x="168.8" y="531.6" font-size="14.8" font-weight="bold" fill="#14149e" stroke="#14149e" stroke-width="0.3" textLength="39.2" lengthAdjust="spacingAndGlyphs">33523B</text>
<text x="104.2" y="555.7" font-size="14.8" font-weight="bold" fill="#14149e" stroke="#14149e" stroke-width="0.3" textLength="39.8" lengthAdjust="spacingAndGlyphs">33575A</text>
<text x="24.8" y="584.8" font-size="14.8" font-weight="bold" fill="#14149e" stroke="#14149e" stroke-width="0.3" textLength="39.2" lengthAdjust="spacingAndGlyphs">33575B</text>
<text x="24.1" y="620.5" font-size="14.8" font-weight="bold" fill="#14149e" stroke="#14149e" stroke-width="0.3" textLength="39.9" lengthAdjust="spacingAndGlyphs">33575A</text>
<text x="49.6" y="696.0" font-size="14.8" font-weight="bold" fill="#14149e" stroke="#14149e" stroke-width="0.3" textLength="39.0" lengthAdjust="spacingAndGlyphs">33523B</text>
<text x="147.4" y="686.1" font-size="14.8" font-weight="bold" fill="#14149e" stroke="#14149e" stroke-width="0.3" textLength="39.2" lengthAdjust="spacingAndGlyphs">33575B</text>
<text x="197.8" y="710.6" font-size="14.8" font-weight="bold" fill="#14149e" stroke="#14149e" stroke-width="0.3" textLength="39.2" lengthAdjust="spacingAndGlyphs">33555B</text>
<text x="336.0" y="589.8" font-size="14.8" font-weight="bold" fill="#14149e" stroke="#14149e" stroke-width="0.3" textLength="31.0" lengthAdjust="spacingAndGlyphs">33554</text>
<text x="337.0" y="646.2" font-size="14.8" font-weight="bold" fill="#14149e" stroke="#14149e" stroke-width="0.3" textLength="31.3" lengthAdjust="spacingAndGlyphs">33575</text>
<text x="376.7" y="679.1" font-size="14.8" font-weight="bold" fill="#14149e" stroke="#14149e" stroke-width="0.3" textLength="37.5" lengthAdjust="spacingAndGlyphs">33506F</text>
<text x="757.4" y="277.2" font-size="14.8" font-weight="bold" fill="#14149e" stroke="#14149e" stroke-width="0.3" textLength="39.1" lengthAdjust="spacingAndGlyphs">33504F</text>
<text x="643.3" y="434.0" font-size="14.8" font-weight="bold" fill="#14149e" stroke="#14149e" stroke-width="0.3" textLength="39.9" lengthAdjust="spacingAndGlyphs">33597B</text>
<text x="662.0" y="581.0" font-size="14.8" font-weight="bold" fill="#14149e" stroke="#14149e" stroke-width="0.3" textLength="31.6" lengthAdjust="spacingAndGlyphs">33532</text>
<text x="654.1" y="691.8" font-size="14.8" font-weight="bold" fill="#14149e" stroke="#14149e" stroke-width="0.3" textLength="31.6" lengthAdjust="spacingAndGlyphs">33555</text>
<text x="488.7" y="285.0" font-size="11.7" font-weight="bold" fill="#14149e" stroke="#14149e" stroke-width="0.3" textLength="61.6" lengthAdjust="spacingAndGlyphs">SU003-00898</text>
<text x="465.6" y="300.0" font-size="11.7" font-weight="bold" fill="#14149e" stroke="#14149e" stroke-width="0.3" textLength="59.8" lengthAdjust="spacingAndGlyphs">SU003-00892</text>
<text x="388.1" y="483.7" font-size="11.7" font-weight="bold" fill="#14149e" stroke="#14149e" stroke-width="0.3" textLength="61.1" lengthAdjust="spacingAndGlyphs">SU003-04101</text>
<text x="342.5" y="514.8" font-size="11.7" font-weight="bold" fill="#14149e" stroke="#14149e" stroke-width="0.3" textLength="61.1" lengthAdjust="spacingAndGlyphs">SU003-00892</text>
<text x="389.0" y="558.2" font-size="11.7" font-weight="bold" fill="#14149e" stroke="#14149e" stroke-width="0.3" textLength="61.1" lengthAdjust="spacingAndGlyphs">SU003-00898</text>
<text x="279.4" y="491.5" font-size="11.7" font-weight="bold" fill="#14149e" stroke="#14149e" stroke-width="0.3" textLength="61.1" lengthAdjust="spacingAndGlyphs">SU003-00878</text>
<text x="341.0" y="491.5" font-size="11.2" font-weight="normal" fill="#1e1e1e" stroke="#1e1e1e" stroke-width="0.2" textLength="12.1" lengthAdjust="spacingAndGlyphs">(4)</text>
<text x="200.3" y="735.0" font-size="11.7" font-weight="bold" fill="#14149e" stroke="#14149e" stroke-width="0.3" textLength="61.7" lengthAdjust="spacingAndGlyphs">SU003-00005</text>
<text x="262.5" y="735.0" font-size="11.2" font-weight="normal" fill="#1e1e1e" stroke="#1e1e1e" stroke-width="0.2" textLength="12.2" lengthAdjust="spacingAndGlyphs">(2)</text>
<text x="640.8" y="374.5" font-size="11.7" font-weight="bold" fill="#14149e" stroke="#14149e" stroke-width="0.3" textLength="61.7" lengthAdjust="spacingAndGlyphs">SU003-00896</text>
<text x="703.0" y="374.5" font-size="11.2" font-weight="normal" fill="#1e1e1e" stroke="#1e1e1e" stroke-width="0.2" textLength="12.1" lengthAdjust="spacingAndGlyphs">(2)</text>
<text x="603.5" y="490.4" font-size="11.7" font-weight="bold" fill="#14149e" stroke="#14149e" stroke-width="0.3" textLength="62.1" lengthAdjust="spacingAndGlyphs">SU003-00006</text>
<text x="666.0" y="490.4" font-size="11.2" font-weight="normal" fill="#1e1e1e" stroke="#1e1e1e" stroke-width="0.2" textLength="11.6" lengthAdjust="spacingAndGlyphs">(4)</text>
<text x="173.9" y="541.3" font-size="8.9" fill="#2a2a2a" textLength="30.4" lengthAdjust="spacingAndGlyphs">(NO.1)</text>
<text x="53.6" y="705.8" font-size="8.9" fill="#2a2a2a" textLength="30.4" lengthAdjust="spacingAndGlyphs">(NO.2)</text>
<text x="336.3" y="245.8" font-size="11.8" font-weight="normal" fill="#1e1e1e" stroke="#1e1e1e" stroke-width="0.2" textLength="52.8" lengthAdjust="spacingAndGlyphs">REFER TO</text>
<text x="336.3" y="258.2" font-size="11.8" font-weight="normal" fill="#1e1e1e" stroke="#1e1e1e" stroke-width="0.2" textLength="16.7" lengthAdjust="spacingAndGlyphs">FIG</text>
<text x="356.7" y="258.2" font-size="12.2" font-weight="bold" fill="#6c2ad0" stroke="#6c2ad0" stroke-width="0.3" textLength="26.0" lengthAdjust="spacingAndGlyphs">33-07</text>
<text x="224.1" y="270.6" font-size="11.8" font-weight="normal" fill="#1e1e1e" stroke="#1e1e1e" stroke-width="0.2" textLength="52.8" lengthAdjust="spacingAndGlyphs">REFER TO</text>
<text x="224.1" y="282.9" font-size="11.8" font-weight="normal" fill="#1e1e1e" stroke="#1e1e1e" stroke-width="0.2" textLength="16.7" lengthAdjust="spacingAndGlyphs">FIG</text>
<text x="244.5" y="282.9" font-size="12.2" font-weight="bold" fill="#6c2ad0" stroke="#6c2ad0" stroke-width="0.3" textLength="26.0" lengthAdjust="spacingAndGlyphs">33-07</text>
<text x="244.7" y="307.1" font-size="11.8" font-weight="normal" fill="#1e1e1e" stroke="#1e1e1e" stroke-width="0.2" textLength="52.8" lengthAdjust="spacingAndGlyphs">REFER TO</text>
<text x="244.7" y="319.6" font-size="11.8" font-weight="normal" fill="#1e1e1e" stroke="#1e1e1e" stroke-width="0.2" textLength="16.7" lengthAdjust="spacingAndGlyphs">FIG</text>
<text x="265.1" y="319.6" font-size="12.2" font-weight="bold" fill="#6c2ad0" stroke="#6c2ad0" stroke-width="0.3" textLength="26.0" lengthAdjust="spacingAndGlyphs">33-07</text>
<text x="417.7" y="339.5" font-size="11.8" font-weight="normal" fill="#1e1e1e" stroke="#1e1e1e" stroke-width="0.2" textLength="52.8" lengthAdjust="spacingAndGlyphs">REFER TO</text>
<text x="417.7" y="352.0" font-size="11.8" font-weight="normal" fill="#1e1e1e" stroke="#1e1e1e" stroke-width="0.2" textLength="16.7" lengthAdjust="spacingAndGlyphs">FIG</text>
<text x="438.1" y="352.0" font-size="12.2" font-weight="bold" fill="#6c2ad0" stroke="#6c2ad0" stroke-width="0.3" textLength="26.0" lengthAdjust="spacingAndGlyphs">33-07</text>
<text x="695.4" y="337.1" font-size="11.8" font-weight="normal" fill="#1e1e1e" stroke="#1e1e1e" stroke-width="0.2" textLength="52.8" lengthAdjust="spacingAndGlyphs">REFER TO</text>
<text x="695.4" y="349.8" font-size="11.8" font-weight="normal" fill="#1e1e1e" stroke="#1e1e1e" stroke-width="0.2" textLength="16.7" lengthAdjust="spacingAndGlyphs">FIG</text>
<text x="715.8" y="349.8" font-size="12.2" font-weight="bold" fill="#6c2ad0" stroke="#6c2ad0" stroke-width="0.3" textLength="26.0" lengthAdjust="spacingAndGlyphs">58-06</text>
</g>
<!-- 01_rings.svg -->
<ellipse class="ring" cx="452.5" cy="284.4" rx="17.1" ry="19.1"/>
<ellipse class="ring" cx="422.1" cy="529.7" rx="28.4" ry="21.9" style="stroke-width:5"/>
</svg>
</body>
</html>
